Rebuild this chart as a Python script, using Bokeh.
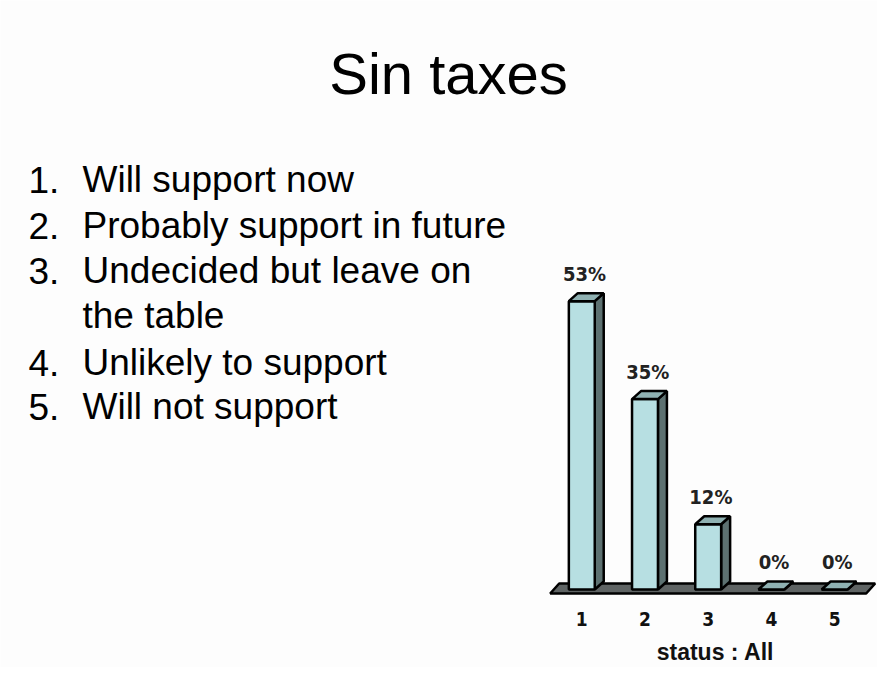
from bokeh.plotting import figure
from bokeh.models import Range1d, Label, ColumnDataSource
from bokeh.core.properties import value
from bokeh.embed import file_html
from bokeh.resources import INLINE

# ---- data ----
title_text = "Sin taxes"
item_numbers = ["1.", "2.", "3.", "", "4.", "5."]
item_texts = ["Will support now", "Probably support in future",
              "Undecided but leave on", "the table",
              "Unlikely to support", "Will not support"]
categories = [1, 2, 3, 4, 5]
tick_labels = ["1", "2", "3", "4", "5"]
values = [53, 35, 12, 0, 0]
value_labels = ["53%", "35%", "12%", "0%", "0%"]
axis_title = "status : All"

# ---- style ----
W, H = 877, 667
BG = "#fdfdfd"
FRONT = "#b7dfe2"
SIDE = "#5d7171"
TOP = "#8fb1b2"
FLOOR = "#5f6464"
NARROW = "DejaVu Sans Condensed, Liberation Sans"

bar_w = 0.41      # front face width (category units)
dx = 0.142        # depth offset x
dy = 1.47         # depth offset y

p = figure(width=W, height=H, output_backend="svg", toolbar_location=None,
           x_range=Range1d(-8.198, 5.679), y_range=Range1d(-14.34, 108.27),
           min_border=0, min_border_left=0, min_border_right=0,
           min_border_top=0, min_border_bottom=0)
p.axis.visible = False
p.grid.visible = False
p.outline_line_color = None
p.background_fill_color = BG
p.border_fill_color = BG

# floor
fl_left = categories[0] - 0.5
fl_right = categories[-1] + 0.5
fdy = 1.84
p.patch([fl_left, fl_right, fl_right + dx, fl_left + dx],
        [-0.74, -0.74, -0.74 + fdy, -0.74 + fdy],
        fill_color=FLOOR, line_color="black", line_width=2.5)

# side and top faces
side_xs, side_ys, top_xs, top_ys = [], [], [], []
for c, v in zip(categories, values):
    r = c + bar_w / 2
    l = c - bar_w / 2
    side_xs.append([r, r + dx, r + dx, r])
    side_ys.append([0, dy, v + dy, v])
    top_xs.append([l, r, r + dx, l + dx])
    top_ys.append([v, v, v + dy, v + dy])

p.patches(side_xs, side_ys, fill_color=SIDE, line_color="black", line_width=2.5)
p.vbar(x=categories, top=values, bottom=0, width=bar_w,
       fill_color=FRONT, line_color="black", line_width=2.5)
p.patches(top_xs, top_ys, fill_color=TOP, line_color="black", line_width=2.5)

# value labels
src = ColumnDataSource(dict(x=[c + dx * 0.3 for c in categories],
                            y=[v + 5.0 for v in values],
                            t=value_labels))
p.text(x="x", y="y", text="t", source=src, text_align="center",
       text_baseline="middle", text_font=value(NARROW),
       text_font_style="bold", text_font_size="20px", text_color="#222222")

# tick labels
tsrc = ColumnDataSource(dict(x=categories, y=[-5.5] * len(categories), t=tick_labels))
p.text(x="x", y="y", text="t", source=tsrc, text_align="center",
       text_baseline="middle", text_font=value(NARROW),
       text_font_style="bold", text_font_size="19px", text_color="#111111")

# axis title
p.add_layout(Label(x=715, y=16, x_units="screen", y_units="screen",
                   text=axis_title, text_align="center",
                   text_baseline="alphabetic", text_font="Liberation Sans",
                   text_font_style="bold", text_font_size="23px",
                   text_color="#111111"))

# slide title
p.add_layout(Label(x=448, y=594, x_units="screen", y_units="screen",
                   text=title_text, text_align="center",
                   text_baseline="alphabetic", text_font="Liberation Sans",
                   text_font_size="58px", text_color="#000000"))

# list
baselines = [488, 442, 397, 352, 305, 261]
for num, txt, b in zip(item_numbers, item_texts, baselines):
    if num:
        p.add_layout(Label(x=28, y=b, x_units="screen", y_units="screen",
                           text=num, text_baseline="alphabetic",
                           text_font="Liberation Sans", text_font_size="37px",
                           text_color="#000000"))
    p.add_layout(Label(x=82, y=b, x_units="screen", y_units="screen",
                       text=txt, text_baseline="alphabetic",
                       text_font="Liberation Sans", text_font_size="37px",
                       text_color="#000000"))

open("out.html", "w").write(file_html(p, INLINE))
